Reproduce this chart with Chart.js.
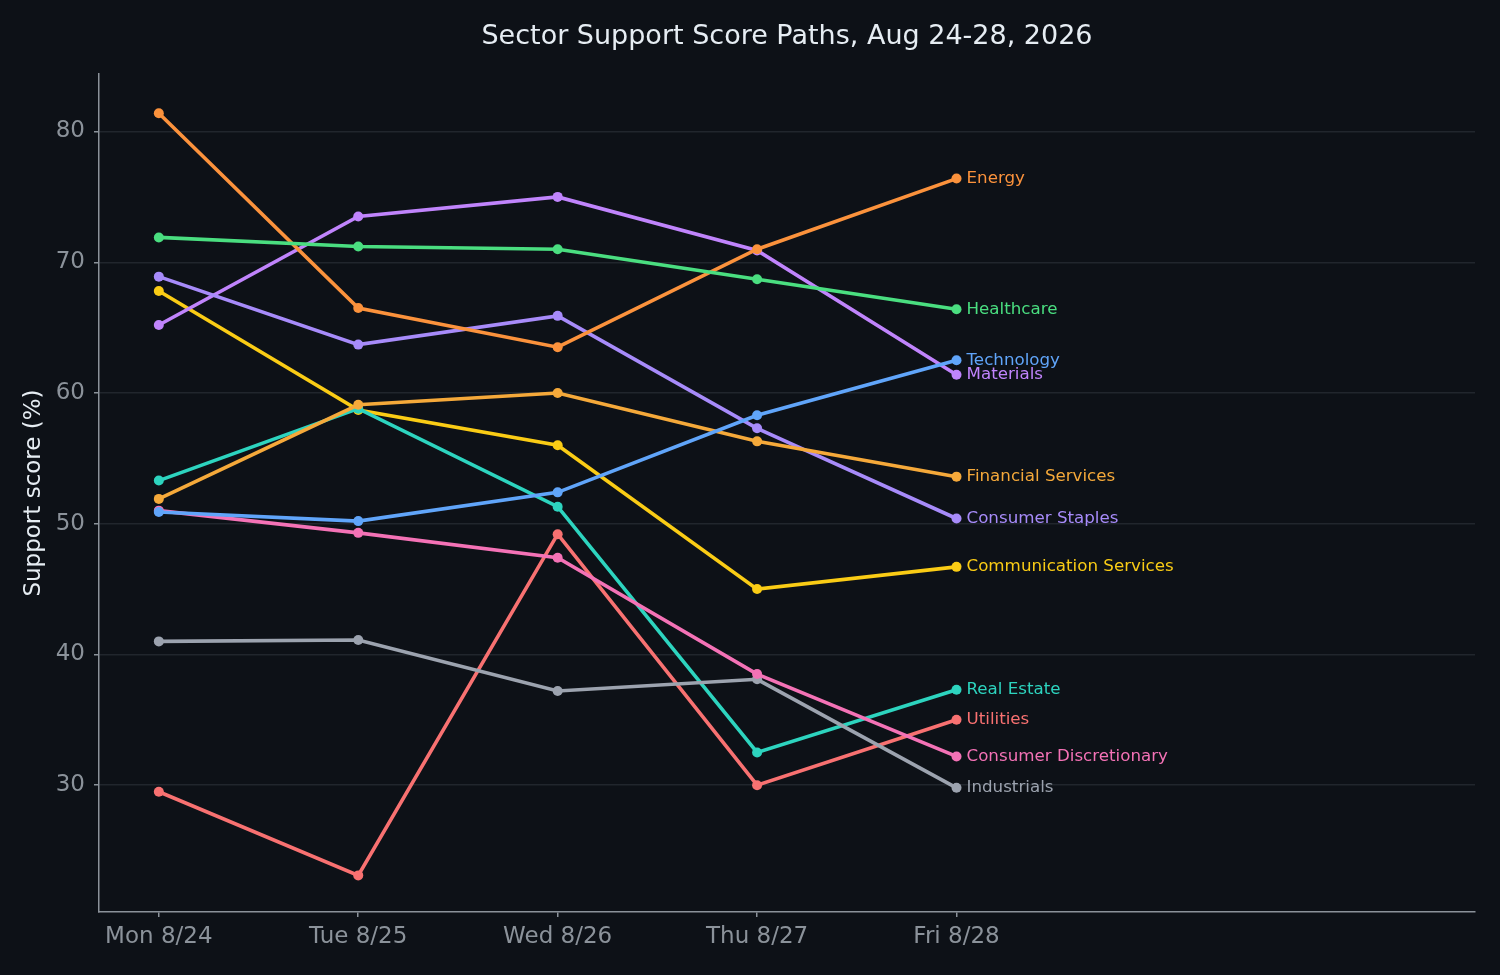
<!DOCTYPE html>
<html>
<head>
<meta charset="utf-8">
<script src="https://cdn.jsdelivr.net/npm/chart.js@4.4.1/dist/chart.umd.min.js"></script>
<style>
  html, body { margin: 0; padding: 0; background: #0d1117; }
  #wrap { width: 1500px; height: 975px; }
</style>
</head>
<body>
<div id="wrap"><canvas id="chart" width="1500" height="975"></canvas></div>
<script>
const days = ['Mon 8/24', 'Tue 8/25', 'Wed 8/26', 'Thu 8/27', 'Fri 8/28'];
const yTicks = [30, 40, 50, 60, 70, 80];
const chartTitle = 'Sector Support Score Paths, Aug 24-28, 2026';

const sectors = [
  'Technology', 'Healthcare', 'Financial Services', 'Energy', 'Consumer Discretionary',
  'Consumer Staples', 'Industrials', 'Utilities', 'Real Estate', 'Materials', 'Communication Services'
];
const technology = [50.9, 50.2, 52.4, 58.3, 62.5];
const healthcare = [71.9, 71.2, 71.0, 68.7, 66.4];
const financial = [51.9, 59.1, 60.0, 56.3, 53.6];
const energy = [81.4, 66.5, 63.5, 71.0, 76.4];
const discretionary = [51.0, 49.3, 47.4, 38.5, 32.2];
const staples = [68.9, 63.7, 65.9, 57.3, 50.4];
const industrials = [41.0, 41.1, 37.2, 38.1, 29.8];
const utilities = [29.5, 23.1, 49.2, 30.0, 35.0];
const realEstate = [53.3, 58.8, 51.3, 32.5, 37.3];
const materials = [65.2, 73.5, 75.0, 70.9, 61.4];
const communication = [67.8, 58.7, 56.0, 45.0, 46.7];

const seriesValues = [technology, healthcare, financial, energy, discretionary,
  staples, industrials, utilities, realEstate, materials, communication];
const seriesColors = ['#60a5fa', '#4ade80', '#f5a93a', '#fb923c', '#f472b6',
  '#a78bfa', '#9ca3af', '#f87171', '#2dd4bf', '#c084fc', '#facc15'];

const FONT = "'DejaVu Sans', sans-serif";
const tickGray = '#8b929a';

// sector name next to each series' last point, and title centred on the plot area
const annotations = {
  id: 'annotations',
  afterDatasetsDraw(chart) {
    const ctx = chart.ctx;
    const area = chart.chartArea;
    ctx.save();
    ctx.font = '16.7px ' + FONT;
    ctx.textBaseline = 'middle';
    ctx.textAlign = 'left';
    chart.data.datasets.forEach((ds, i) => {
      const pts = chart.getDatasetMeta(i).data;
      const last = pts[pts.length - 1];
      ctx.fillStyle = ds.borderColor;
      ctx.fillText(ds.label, last.x + 10, last.y);
    });
    ctx.font = '27px ' + FONT;
    ctx.textAlign = 'center';
    ctx.fillStyle = '#e6edf3';
    ctx.fillText(chartTitle, (area.left + area.right) / 2, 37);
    ctx.restore();
  }
};

const bgPlugin = {
  id: 'bg',
  beforeDraw(chart) {
    const ctx = chart.ctx;
    ctx.save();
    ctx.fillStyle = '#0d1117';
    ctx.fillRect(0, 0, chart.width, chart.height);
    ctx.restore();
  }
};

new Chart(document.getElementById('chart'), {
  type: 'line',
  data: {
    datasets: sectors.map((name, i) => ({
      label: name,
      data: seriesValues[i].map((v, j) => ({ x: j, y: v })),
      borderColor: seriesColors[i],
      backgroundColor: seriesColors[i],
      borderWidth: 3.6,
      pointRadius: 5,
      pointBorderWidth: 0,
      tension: 0
    }))
  },
  options: {
    responsive: false,
    animation: false,
    layout: { padding: { left: 10, right: 25, top: 74, bottom: 13 } },
    plugins: {
      legend: { display: false },
      tooltip: { enabled: false },
      title: { display: false }
    },
    scales: {
      x: {
        type: 'linear',
        min: -0.3,
        max: 6.6,
        afterBuildTicks: s => { s.ticks = days.map((d, i) => ({ value: i })); },
        afterFit: s => { s.height = 50; },
        ticks: {
          color: tickGray,
          font: { family: FONT, size: 23 },
          padding: 6,
          maxRotation: 0,
          autoSkip: false,
          callback: v => days[v]
        },
        grid: { drawOnChartArea: false, tickColor: tickGray, tickLength: 5, lineWidth: 1.5 },
        border: { color: tickGray, width: 1.5 }
      },
      y: {
        min: 20.3,
        max: 84.4,
        afterBuildTicks: s => { s.ticks = yTicks.map(v => ({ value: v })); },
        afterFit: s => { s.width = 89; },
        ticks: {
          color: tickGray,
          font: { family: FONT, size: 23 },
          padding: 9
        },
        grid: { color: '#21262d', lineWidth: 1.5, tickColor: tickGray, tickLength: 5 },
        border: { color: tickGray, width: 1.5 },
        title: {
          display: true,
          text: 'Support score (%)',
          color: '#e6edf3',
          font: { family: FONT, size: 23 },
          padding: { top: 10, bottom: 0 }
        }
      }
    }
  },
  plugins: [bgPlugin, annotations]
});
</script>
</body>
</html>
